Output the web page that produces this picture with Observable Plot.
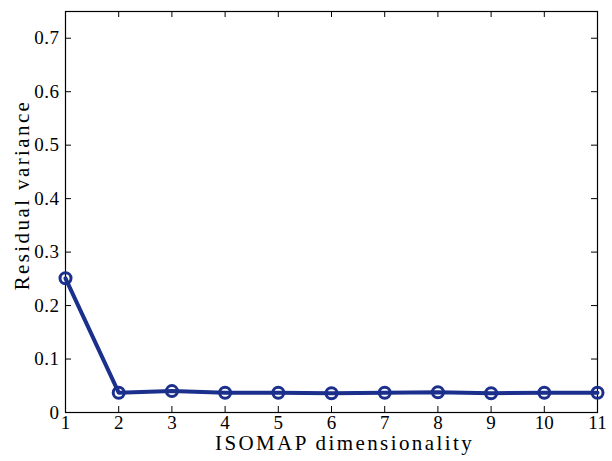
<!DOCTYPE html>
<html>
<head>
<meta charset="utf-8">
<script src="https://cdn.jsdelivr.net/npm/d3@7"></script>
<script src="https://cdn.jsdelivr.net/npm/@observablehq/plot@0.6"></script>
<style>
  html, body { margin: 0; padding: 0; background: #fff; }
  #chart { width: 612px; height: 461px; }
  svg { font-family: "Liberation Serif", "DejaVu Serif", serif; }
</style>
</head>
<body>
<div id="chart"></div>
<script>
const dims = [1, 2, 3, 4, 5, 6, 7, 8, 9, 10, 11];
const residual = [0.251, 0.037, 0.040, 0.037, 0.037, 0.036, 0.037, 0.038, 0.036, 0.037, 0.037];
const xTicks = [1, 2, 3, 4, 5, 6, 7, 8, 9, 10, 11];
const yTicks = [0, 0.1, 0.2, 0.3, 0.4, 0.5, 0.6, 0.7];
const xLabel = "ISOMAP dimensionality";
const yLabel = "Residual variance";

const data = dims.map((d, i) => ({dim: d, value: residual[i]}));
const color = "#1b2f8c";
const yFmt = d => d === 0 ? "0" : d3.format(".1f")(d);

const W = 612, H = 461, mL = 65, mR = 15, mT = 11, mB = 49;
const plotW = W - mL - mR, plotH = H - mT - mB, tk = 6;

const chart = Plot.plot({
  width: W,
  height: H,
  marginLeft: mL,
  marginRight: mR,
  marginTop: mT,
  marginBottom: mB,
  style: {fontFamily: "'Liberation Serif', serif", fontSize: "18px", color: "#000", background: "#fff"},
  x: {domain: [1, 11], type: "linear", axis: null},
  y: {domain: [0, 0.75], axis: null},
  marks: [
    Plot.tickX(xTicks, {x: d => d, insetTop: plotH - tk, stroke: "#000", strokeWidth: 1}),
    Plot.tickX(xTicks, {x: d => d, insetBottom: plotH - tk, stroke: "#000", strokeWidth: 1}),
    Plot.tickY(yTicks, {y: d => d, insetRight: plotW - tk, stroke: "#000", strokeWidth: 1}),
    Plot.tickY(yTicks, {y: d => d, insetLeft: plotW - tk, stroke: "#000", strokeWidth: 1}),
    Plot.text(xTicks, {x: d => d, frameAnchor: "bottom", dy: 16, textAnchor: "middle", text: d => String(d), fill: "#000"}),
    Plot.text(yTicks, {y: d => d, frameAnchor: "left", dx: -6, textAnchor: "end", text: yFmt, fill: "#000"}),
    Plot.frame({stroke: "#000", strokeWidth: 1.2}),
    Plot.line(data, {x: "dim", y: "value", stroke: color, strokeWidth: 4}),
    Plot.dot(data, {x: "dim", y: "value", r: 5.5, stroke: color, strokeWidth: 3, fill: "none"}),
    Plot.text([xLabel], {frameAnchor: "bottom", dy: 37, dx: 13, textAnchor: "middle", text: d => d, fill: "#000"}),
    Plot.text([yLabel], {frameAnchor: "left", dx: -43, dy: -17, rotate: -90, textAnchor: "middle", text: d => d, fill: "#000"})
  ]
});
const textGroups = chart.querySelectorAll('g[aria-label="text"]');
const textStyles = [
  "font-size:19px",
  "font-size:19px;letter-spacing:0.5px",
  "font-size:21px;letter-spacing:2.4px",
  "font-size:21px;letter-spacing:2.4px"
];
textGroups.forEach((g, i) => {
  const s = textStyles[i] || "";
  g.setAttribute("style", s);
  g.querySelectorAll("text").forEach(t => t.setAttribute("style", s));
});
document.getElementById("chart").appendChild(chart);
</script>
</body>
</html>
